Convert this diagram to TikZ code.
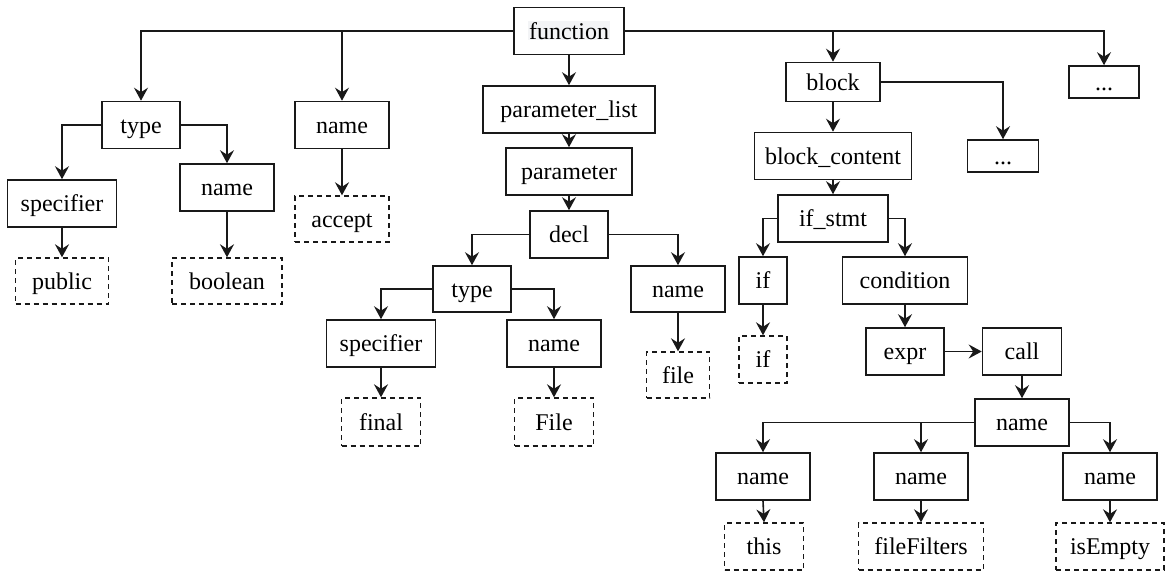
\documentclass[tikz,border=0pt]{standalone}
\usepackage{fontspec}
\setmainfont{Liberation Serif}
\usetikzlibrary{arrows.meta}
\definecolor{fnbg}{HTML}{F3F4F6}
\begin{document}
\begin{tikzpicture}[x=1pt,y=-1pt,
  font=\fontsize{24}{28}\selectfont,
  box/.style={draw=black!90, line width=1.6pt, fill=white, inner sep=0pt,
    minimum height=47pt, text height=17pt, text depth=1pt},
  leaf/.style={box, dash pattern=on 5pt off 4pt, line width=1.4pt},
  arr/.style={draw=black!90, line width=1.6pt,
    -{Stealth[length=13pt, width=14pt, inset=4.5pt]}}]
\useasboundingbox (0,0) rectangle (1165,573);

% root
\node[box, minimum width=110pt] (function) at (569,31)
  {\setlength{\fboxsep}{1pt}\colorbox{fnbg}{function}};

% return type and method name
\node[box, minimum width=78pt]  (type1)  at (141,125) {type};
\node[box, minimum width=94pt]  (name1)  at (342,125) {name};
\node[box, minimum width=109pt] (spec1)  at (62,203.5) {specifier};
\node[box, minimum width=94pt]  (name1b) at (227,187.5) {name};
\node[leaf, minimum width=93pt, minimum height=46pt]  (public)  at (62,281) {public};
\node[leaf, minimum width=110pt, minimum height=46pt] (boolean) at (227,281) {boolean};
\node[leaf, minimum width=94pt, minimum height=46pt]  (accept)  at (342,219) {accept};

% parameters
\node[box, minimum width=172pt] (plist) at (569,109.5) {parameter\_list};
\node[box, minimum width=126pt] (param) at (569,171.5) {parameter};
\node[box, minimum width=78pt]  (decl)  at (569,234.5) {decl};
\node[box, minimum width=78pt, minimum height=46pt]  (type2) at (472,289) {type};
\node[box, minimum width=94pt, minimum height=46pt]  (name2) at (678,289) {name};
\node[box, minimum width=109pt] (spec2)  at (381,343.5) {specifier};
\node[box, minimum width=94pt]  (name2b) at (554,343.5) {name};
\node[leaf, minimum width=79pt, minimum height=48pt] (final)  at (381,422) {final};
\node[leaf, minimum width=79pt, minimum height=48pt] (File)   at (554,422) {File};
\node[leaf, minimum width=63pt, minimum height=46pt] (file)   at (678,375) {file};

% body
\node[box, minimum width=94pt, minimum height=39pt] (block) at (833,82) {block};
\node[box, minimum width=70pt, minimum height=32pt] (dots1) at (1104,82) {...};
\node[box, minimum width=157pt] (bcontent) at (833,156) {block\_content};
\node[box, minimum width=71pt, minimum height=32pt] (dots2) at (1003,156) {...};
\node[box, minimum width=110pt] (ifstmt) at (833,218.5) {if\_stmt};
\node[box, minimum width=48pt]  (ifn)    at (763,280.5) {if};
\node[box, minimum width=125pt] (cond)   at (905,280.5) {condition};
\node[leaf, minimum width=48pt] (ifleaf) at (763,359.5) {if};
\node[box, minimum width=78pt]  (expr)   at (905,351.5) {expr};
\node[box, minimum width=79pt]  (call)   at (1022,351.5) {call};
\node[box, minimum width=94pt]  (nameC)  at (1022,422.5) {name};
\node[box, minimum width=94pt]  (nameT)  at (763,476.5) {name};
\node[box, minimum width=94pt]  (nameF)  at (921,476.5) {name};
\node[box, minimum width=94pt]  (nameE)  at (1110,476.5) {name};
\node[leaf, minimum width=79pt]  (this)   at (764,546.5) {this};
\node[leaf, minimum width=125pt] (filters) at (921,546.5) {fileFilters};
\node[leaf, minimum width=108pt] (isempty) at (1110,546.5) {isEmpty};

% connectors
\draw[arr] (function.west) -| (type1.north);
\draw[arr] (function.west) -| (name1.north);
\draw[arr] (function.south) -- (plist.north);
\draw[arr] (function.east) -| (block.north);
\draw[arr] (function.east) -| (dots1.north);

\draw[arr] (type1.west) -| (spec1.north);
\draw[arr] (type1.east) -| (name1b.north);
\draw[arr] (spec1.south) -- (public.north);
\draw[arr] (name1b.south) -- (boolean.north);
\draw[arr] (name1.south) -- (accept.north);

\draw[arr] (plist.south) -- (param.north);
\draw[arr] (param.south) -- (decl.north);
\draw[arr] (decl.west) -| (type2.north);
\draw[arr] (decl.east) -| (name2.north);
\draw[arr] (type2.west) -| (spec2.north);
\draw[arr] (type2.east) -| (name2b.north);
\draw[arr] (spec2.south) -- (final.north);
\draw[arr] (name2b.south) -- (File.north);
\draw[arr] (name2.south) -- (file.north);

\draw[arr] (block.east) -| (dots2.north);
\draw[arr] (block.south) -- (bcontent.north);
\draw[arr] (bcontent.south) -- (ifstmt.north);
\draw[arr] (ifstmt.west) -| (ifn.north);
\draw[arr] (ifstmt.east) -| (cond.north);
\draw[arr] (ifn.south) -- (ifleaf.north);
\draw[arr] (cond.south) -- (expr.north);
\draw[arr] (expr.east) -- (call.west);
\draw[arr] (call.south) -- (nameC.north);
\draw[arr] (nameC.west) -| (nameT.north);
\draw[arr] (nameC.west) -| (nameF.north);
\draw[arr] (nameC.east) -| (nameE.north);
\draw[arr] (nameT.south) -- (this.north);
\draw[arr] (nameF.south) -- (filters.north);
\draw[arr] (nameE.south) -- (isempty.north);
\end{tikzpicture}
\end{document}
